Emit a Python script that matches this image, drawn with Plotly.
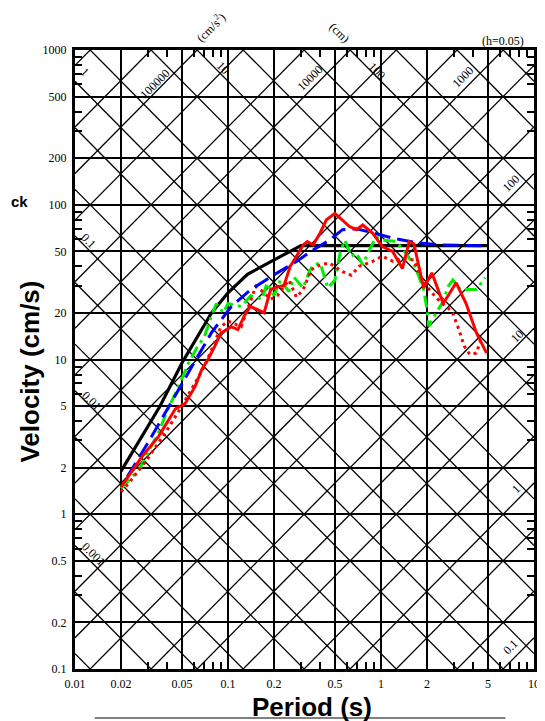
import math
import plotly.graph_objects as go

# ---------------- data ----------------
PERIOD_TICKS = [0.01, 0.02, 0.05, 0.1, 0.2, 0.5, 1, 2, 5, 10]
PERIOD_TICK_TEXT = ["0.01", "0.02", "0.05", "0.1", "0.2", "0.5", "1", "2", "5", "10"]
PERIOD_MINOR = [0.03, 0.04, 0.06, 0.07, 0.08, 0.09, 0.3, 0.4, 0.6, 0.7, 0.8, 0.9,
                3, 4, 6, 7, 8, 9]
VEL_TICKS = [0.1, 0.2, 0.5, 1, 2, 5, 10, 20, 50, 100, 200, 500, 1000]
VEL_TICK_TEXT = ["0.1", "0.2", "0.5", "1", "2", "5", "10", "20", "50", "100", "200", "500", "1000"]
VEL_MINOR = [0.3, 0.4, 0.6, 0.7, 0.8, 0.9, 3, 4, 6, 7, 8, 9, 30, 40, 60, 70, 80, 90,
             300, 400, 600, 700, 800, 900]

# diagonal grid (displacement in cm, acceleration in cm/s^2)
DISP_LINES = [0.0002, 0.0005, 0.001, 0.002, 0.005, 0.01, 0.02, 0.05, 0.1, 0.2, 0.5,
              1, 2, 5, 10, 20, 50, 100, 200, 500, 1000]
ACC_LINES = [0.1, 0.2, 0.5, 1, 2, 5, 10, 20, 50, 100, 200, 500, 1000, 2000, 5000,
             10000, 20000, 50000, 100000, 200000, 500000]

# design spectrum (black)
black_T = [0.02, 0.036, 0.05, 0.078, 0.1, 0.134, 0.2, 0.3, 5.0]
black_V = [1.9, 5.0, 9.5, 20, 27, 35.5, 44, 54.5, 54.5]

# blue dashed
blue_T = [0.022, 0.03, 0.0476, 0.064, 0.078, 0.105, 0.141, 0.21, 0.28, 0.36, 0.46,
          0.56, 0.69, 0.93, 1.18, 1.67, 2.5, 4.8]
blue_V = [1.75, 2.9, 6.4, 10.5, 14.9, 22, 28.3, 36.3, 43, 51, 59, 69, 70, 65, 61,
          57, 55, 54.3]

# green dash-dot
green_T = [0.02, 0.0263, 0.0353, 0.04, 0.0476, 0.0553, 0.0625, 0.07, 0.078, 0.084,
           0.093, 0.1, 0.122, 0.141, 0.167, 0.18, 0.2, 0.22, 0.25, 0.27, 0.31, 0.34,
           0.36, 0.40, 0.45, 0.50, 0.54, 0.58, 0.64, 0.69, 0.76, 0.84, 0.93, 1.02,
           1.25, 1.45, 1.67, 1.9, 2.0, 2.05, 2.2, 2.5, 2.75, 2.95, 3.3, 3.7, 4.2, 4.8]
green_V = [1.47, 1.95, 3.4, 4.65, 6.7, 9.5, 11.9, 14, 19.2, 23, 20, 23, 22, 25.8,
           24.5, 31.3, 25.8, 32.6, 27.5, 34, 29, 37, 40.9, 42, 29, 32.6, 48.8, 59,
           46.5, 48.8, 40.9, 51, 62, 59, 58, 48.8, 40, 28.3, 21, 16.4, 18.7, 23, 29.7,
           32.6, 28.3, 28.3, 28.3, 33.8]

# red solid
red_T = [0.02, 0.0276, 0.0353, 0.0453, 0.0525, 0.061, 0.0673, 0.074, 0.082, 0.09,
         0.105, 0.116, 0.128, 0.14, 0.156, 0.172, 0.19, 0.21, 0.232, 0.255, 0.28,
         0.31, 0.33, 0.36, 0.40, 0.44, 0.50, 0.56, 0.62, 0.69, 0.76, 0.88, 1.02,
         1.19, 1.38, 1.53, 1.64, 1.9, 2.15, 2.55, 3.1, 3.6, 4.2, 4.9]
red_V = [1.5, 2.38, 3.2, 4.8, 5.2, 6.7, 8.6, 10, 12.2, 14.8, 16.3, 15.6, 19.2, 22,
         21, 20, 28.3, 29.5, 30, 40, 46.5, 55, 57.8, 55, 65.7, 80, 88, 80, 72.6, 69,
         74, 65.7, 53.6, 50, 38.7, 57.8, 56, 29, 36.3, 23, 31.3, 23, 14.9, 11]

# red dotted
reddot_T = [0.02, 0.0226, 0.03, 0.04, 0.05, 0.06, 0.07, 0.082, 0.09, 0.1, 0.122,
            0.152, 0.163, 0.19, 0.21, 0.25, 0.28, 0.31, 0.35, 0.40, 0.46, 0.56, 0.64,
            0.72, 0.88, 1.02, 1.2, 1.38, 1.64, 1.85, 2.15, 2.5, 2.75, 2.95, 3.2, 3.5,
            3.8, 4.2, 4.5]
reddot_V = [1.4, 1.6, 2.3, 3.5, 5.0, 6.8, 9, 13, 16.3, 17.7, 16.3, 29.7, 28.3, 24.5,
            25.8, 32.6, 25.3, 28.3, 38, 40.9, 42, 37, 35, 40, 43, 46.5, 43, 45, 44,
            32.6, 27, 23, 21.5, 19.8, 16, 12.2, 10.8, 11, 13.5]

DISP_LABELS = ["1", "0.1", "0.01", "0.001", "10", "100"]
ACC_LABELS = ["100000", "10000", "1000", "100", "10", "1", "0.1"]

# ---------------- layout helpers ----------------
# the page body has an 8px margin; the figure is sized to fill the rest of the window
OFF = 8
WIN_W, WIN_H = 545, 721
W, H = WIN_W - OFF, WIN_H - OFF
PLOT_L, PLOT_R, PLOT_T, PLOT_B = 75, 540, 50, 669   # plot area in window pixels
L, R, T, B = PLOT_L - OFF, WIN_W - PLOT_R, PLOT_T - OFF, WIN_H - PLOT_B
PW, PH = PLOT_R - PLOT_L, PLOT_B - PLOT_T


def px(xp):
    return (xp - PLOT_L) / PW


def py(yp):
    return (PLOT_B - yp) / PH


T_MIN, T_MAX = 0.01, 10
TWO_PI = 2 * math.pi

fig = go.Figure()

# diagonal lines
dx, dy = [], []
for D in DISP_LINES:
    dx += [T_MIN, T_MAX, None]
    dy += [TWO_PI * D / T_MIN, TWO_PI * D / T_MAX, None]
ax, ay = [], []
for A in ACC_LINES:
    ax += [T_MIN, T_MAX, None]
    ay += [A * T_MIN / TWO_PI, A * T_MAX / TWO_PI, None]
fig.add_trace(go.Scatter(x=dx, y=dy, mode="lines", line=dict(color="black", width=1.3),
                         hoverinfo="skip"))
fig.add_trace(go.Scatter(x=ax, y=ay, mode="lines", line=dict(color="black", width=1.3),
                         hoverinfo="skip"))

fig.add_trace(go.Scatter(x=black_T, y=black_V, mode="lines",
                         line=dict(color="black", width=3.2)))
fig.add_trace(go.Scatter(x=green_T, y=green_V, mode="lines",
                         line=dict(color="#00ee00", width=3, dash="12px,5px,3px,5px")))
fig.add_trace(go.Scatter(x=reddot_T, y=reddot_V, mode="lines",
                         line=dict(color="#ff0000", width=3, dash="3px,4px")))
fig.add_trace(go.Scatter(x=blue_T, y=blue_V, mode="lines",
                         line=dict(color="#0000ff", width=3, dash="16px,7px")))
fig.add_trace(go.Scatter(x=red_T, y=red_V, mode="lines",
                         line=dict(color="#ff0000", width=3)))

serif = "Liberation Serif"
sans = "Liberation Sans"
axis_common = dict(
    type="log", showgrid=True, gridcolor="black", gridwidth=1.5, zeroline=False,
    showline=True, linecolor="black", linewidth=3, mirror="allticks", ticks="",
    tickfont=dict(family=serif, size=12, color="black"),
)
fig.update_xaxes(range=[-2, 1], tickmode="array", tickvals=PERIOD_TICKS,
                 ticktext=PERIOD_TICK_TEXT, ticklabelstandoff=2,
                 minor=dict(tickmode="array", tickvals=PERIOD_MINOR, ticks="inside",
                            ticklen=7, tickwidth=1.5, tickcolor="black", showgrid=False),
                 **axis_common)
fig.update_yaxes(range=[-1, 3], tickmode="array", tickvals=VEL_TICKS,
                 ticktext=VEL_TICK_TEXT, ticklabelstandoff=3,
                 minor=dict(tickmode="array", tickvals=VEL_MINOR, ticks="inside",
                            ticklen=7, tickwidth=1.5, tickcolor="black", showgrid=False),
                 **axis_common)


def label(xp, yp, text, angle=0, font=None, xanchor="center"):
    return dict(x=px(xp), y=py(yp), xref="paper", yref="paper", text=text,
                showarrow=False, textangle=angle, xanchor=xanchor, yanchor="middle",
                font=font or dict(family=serif, size=12, color="black"))


ann = []
# displacement labels (positions in window pixels)
disp_pos = [(85, 72), (89, 241), (92, 401), (93.5, 554), (225, 68), (381, 71)]
for lab, (xp, yp) in zip(DISP_LABELS, disp_pos):
    ann.append(label(xp, yp, lab, 45))
acc_pos = [(156, 84), (313, 78), (468, 77), (517, 183), (523, 336), (522, 489), (516, 647)]
for lab, (xp, yp) in zip(ACC_LABELS, acc_pos):
    ann.append(label(xp, yp, lab, -45))

ann += [
    label(212, 27, "(cm/s<sup>2</sup>)", -45),
    label(343, 33, "(cm)", 45),
    label(509, 41, "(h=0.05)"),
    label(315, 707, "<b>Period (s)</b>", 0, dict(family=sans, size=26, color="black")),
    label(29, 372, "<b>Velocity (cm/s)</b>", -90, dict(family=sans, size=26, color="black")),
    label(OFF, 201, "<b>ck</b>", 0, dict(family=sans, size=15, color="black"), xanchor="left"),
]

fig.update_layout(
    width=W, height=H, margin=dict(l=L, r=R, t=T, b=B, pad=0),
    plot_bgcolor="white", paper_bgcolor="white", showlegend=False,
    annotations=ann,
    shapes=[dict(type="line", xref="paper", yref="paper", x0=px(95), x1=px(511),
                 y0=py(718), y1=py(718), line=dict(color="black", width=1))],
)

fig.write_html("out.html")
